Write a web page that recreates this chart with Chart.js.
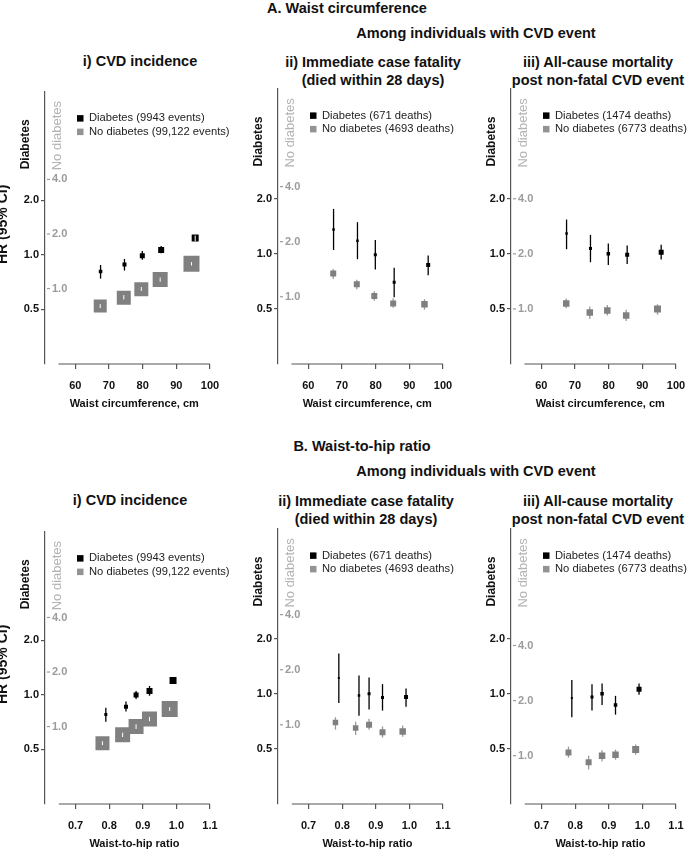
<!DOCTYPE html>
<html>
<head>
<meta charset="utf-8">
<script src="https://cdn.jsdelivr.net/npm/chart.js@4/dist/chart.umd.min.js"></script>
<style>
  body { margin: 0; background: #fff; }
  #fig { position: relative; width: 689px; height: 850px; overflow: hidden; font-family: "Liberation Sans", Arial, sans-serif; }
  #fig canvas { position: absolute; }
  .t { position: absolute; transform: translate(-50%, -50%); white-space: nowrap; font-weight: bold; font-size: 14.5px; color: #111; text-align: center; line-height: 17.5px; }
</style>
</head>
<body>
<div id="fig">
  <div class="t" style="left:347px;top:9px">A. Waist circumference</div>
  <div class="t" style="left:476px;top:34px">Among individuals with CVD event</div>
  <div class="t" style="left:140px;top:62px">i) CVD incidence</div>
  <div class="t" style="left:373px;top:71px">ii) Immediate case fatality<br>(died within 28 days)</div>
  <div class="t" style="left:598px;top:71px">iii) All-cause mortality<br>post non-fatal CVD event</div>

  <div class="t" style="left:362px;top:447px">B. Waist-to-hip ratio</div>
  <div class="t" style="left:476px;top:472px">Among individuals with CVD event</div>
  <div class="t" style="left:130px;top:501px">i) CVD incidence</div>
  <div class="t" style="left:366px;top:510px">ii) Immediate case fatality<br>(died within 28 days)</div>
  <div class="t" style="left:598px;top:510px">iii) All-cause mortality<br>post non-fatal CVD event</div>
</div>

<script>
// ---- data ----

// x positions of the groups (median of each category)
const waistX_dm = [67.5, 74.6, 79.9, 85.5, 95.6];
const waistX_no = [67.4, 74.4, 79.6, 85.2, 94.5];
const whrX_dm = [0.79, 0.85, 0.88, 0.92, 0.99];
const whrX_no = [0.78, 0.84, 0.88, 0.92, 0.98];

const waistTicks = [60, 70, 80, 90, 100];
const whrTicks = [0.7, 0.8, 0.9, 1.0, 1.1];
const hrTicks = [0.5, 1.0, 2.0];
const hrTicksNo = [1.0, 2.0, 4.0];

// A i) CVD incidence
const aInc_dm = [0.81, 0.885, 0.99, 1.065, 1.24];
const aInc_dmLo = [0.74, 0.82, 0.94, 1.02, 1.19];
const aInc_dmHi = [0.88, 0.95, 1.05, 1.12, 1.28];
const aInc_no = [0.80, 0.89, 0.99, 1.12, 1.37];
const aInc_noLo = [0.78, 0.87, 0.97, 1.09, 1.34];
const aInc_noHi = [0.82, 0.92, 1.02, 1.15, 1.40];

// A ii) immediate case fatality
const aFat_dm = [1.36, 1.18, 0.99, 0.70, 0.87];
const aFat_dmLo = [1.05, 0.935, 0.82, 0.58, 0.765];
const aFat_dmHi = [1.76, 1.49, 1.19, 0.84, 0.98];
const aFat_no = [1.34, 1.17, 1.01, 0.92, 0.91];
const aFat_noLo = [1.25, 1.10, 0.95, 0.87, 0.85];
const aFat_noHi = [1.42, 1.24, 1.07, 0.98, 0.97];

// A iii) all-cause mortality
const aMort_dm = [1.29, 1.07, 1.0, 0.99, 1.02];
const aMort_dmLo = [1.06, 0.90, 0.87, 0.88, 0.93];
const aMort_dmHi = [1.54, 1.27, 1.14, 1.11, 1.12];
const aMort_no = [1.07, 0.955, 0.98, 0.92, 1.0];
const aMort_noLo = [1.01, 0.88, 0.92, 0.86, 0.93];
const aMort_noHi = [1.14, 1.03, 1.05, 0.99, 1.06];

// B i) CVD incidence
const bInc_dm = [0.78, 0.86, 1.0, 1.05, 1.20];
const bInc_dmLo = [0.71, 0.81, 0.95, 0.99, 1.15];
const bInc_dmHi = [0.85, 0.92, 1.05, 1.12, 1.25];
const bInc_no = [0.81, 0.90, 1.0, 1.10, 1.25];
const bInc_noLo = [0.79, 0.875, 0.97, 1.07, 1.22];
const bInc_noHi = [0.83, 0.925, 1.03, 1.13, 1.28];

// B ii) immediate case fatality
const bFat_dm = [1.22, 0.98, 1.0, 0.955, 0.96];
const bFat_dmLo = [0.89, 0.76, 0.82, 0.81, 0.85];
const bFat_dmHi = [1.66, 1.26, 1.23, 1.13, 1.07];
const bFat_no = [1.03, 0.96, 1.0, 0.91, 0.92];
const bFat_noLo = [0.94, 0.88, 0.94, 0.85, 0.86];
const bFat_noHi = [1.10, 1.04, 1.08, 0.98, 0.99];

// B iii) all-cause mortality
const bMort_dm = [0.95, 0.96, 1.0, 0.87, 1.06];
const bMort_dmLo = [0.745, 0.81, 0.87, 0.77, 0.99];
const bMort_dmHi = [1.19, 1.13, 1.14, 0.975, 1.14];
const bMort_no = [1.04, 0.92, 1.0, 1.01, 1.08];
const bMort_noLo = [0.975, 0.84, 0.93, 0.95, 1.01];
const bMort_noHi = [1.12, 1.0, 1.07, 1.08, 1.15];

const incLabels = ['Diabetes (9943 events)', 'No diabetes (99,122 events)'];
const fatLabels = ['Diabetes (671 deaths)', 'No diabetes (4693 deaths)'];
const mortLabels = ['Diabetes (1474 deaths)', 'No diabetes (6773 deaths)'];

// ---- styling / layout ----

const FONT = '"Liberation Sans", Arial, sans-serif';
const AXIS = '#555';
const GREY_PT = '#808080';
const GREY_CI = '#9a9a9a';
const GREY_TXT = '#9b9b9b';
Chart.defaults.font.family = FONT;

function series(label, xs, hr, lo, hi, sizes, grey) {
  return {
    label: label,
    data: xs.map((x, i) => ({x: x, y: hr[i]})),
    lo: lo,
    hi: hi,
    boxSizes: sizes,
    yAxisID: grey ? 'y2' : 'y',
    pointStyle: 'rect',
    pointRadius: sizes.map(s => s / Math.SQRT2),
    pointHoverRadius: sizes.map(s => s / Math.SQRT2),
    pointBorderWidth: 0,
    backgroundColor: grey ? GREY_PT : '#000',
    borderColor: grey ? GREY_PT : '#000',
    ciColor: grey ? GREY_CI : '#000',
    legendColor: grey ? '#939393' : '#000',
    showLine: false
  };
}

const waistAxis = {min: 51, max: 100, ticks: waistTicks, line: [55, 100], title: 'Waist circumference, cm', fmt: v => String(v)};
const whrAxis = {min: 0.609, max: 1.1, ticks: whrTicks, line: [0.65, 1.1], title: 'Waist-to-hip ratio', fmt: v => v.toFixed(1)};

// greyShift moves the "No diabetes" axis against the "Diabetes" axis
const panels = [
  {left: 0, top: 80, xa: waistAxis, hr: true, greyShift: 1.533, sets: [
    series(incLabels[0], waistX_dm, aInc_dm, aInc_dmLo, aInc_dmHi, [3.5, 4, 5, 6, 7], false),
    series(incLabels[1], waistX_no, aInc_no, aInc_noLo, aInc_noHi, [13, 14, 14, 15, 16], true)]},
  {left: 233, top: 80, xa: waistAxis, hr: false, greyShift: 1.716, sets: [
    series(fatLabels[0], waistX_dm, aFat_dm, aFat_dmLo, aFat_dmHi, [2.5, 2.5, 3, 3, 4], false),
    series(fatLabels[1], waistX_no, aFat_no, aFat_noLo, aFat_noHi, [6, 6, 6, 6, 6.5], true)]},
  {left: 466, top: 80, xa: waistAxis, hr: false, greyShift: 2.0, sets: [
    series(mortLabels[0], waistX_dm, aMort_dm, aMort_dmLo, aMort_dmHi, [2.5, 3, 3.5, 4, 5], false),
    series(mortLabels[1], waistX_no, aMort_no, aMort_noLo, aMort_noHi, [6.5, 6.5, 6.5, 6.5, 7], true)]},
  {left: 0, top: 520, xa: whrAxis, hr: true, greyShift: 1.495, sets: [
    series(incLabels[0], whrX_dm, bInc_dm, bInc_dmLo, bInc_dmHi, [3, 4, 5, 6, 7], false),
    series(incLabels[1], whrX_no, bInc_no, bInc_noLo, bInc_noHi, [14, 15, 15, 15, 16], true)]},
  {left: 233, top: 520, xa: whrAxis, hr: false, greyShift: 1.476, sets: [
    series(fatLabels[0], whrX_dm, bFat_dm, bFat_dmLo, bFat_dmHi, [2, 2.5, 3, 3, 4], false),
    series(fatLabels[1], whrX_no, bFat_no, bFat_noLo, bFat_noHi, [5.5, 5.5, 6, 6, 6.5], true)]},
  {left: 466, top: 520, xa: whrAxis, hr: false, greyShift: 2.177, sets: [
    series(mortLabels[0], whrX_dm, bMort_dm, bMort_dmLo, bMort_dmHi, [2, 3, 3.5, 3.5, 5], false),
    series(mortLabels[1], whrX_no, bMort_no, bMort_noLo, bMort_noHi, [6, 6, 6.5, 6.5, 7], true)]}
];

function vtext(ctx, txt, x, y, font, color, base) {
  ctx.save();
  ctx.translate(x, y);
  ctx.rotate(-Math.PI / 2);
  ctx.font = font;
  ctx.fillStyle = color;
  ctx.textAlign = base === 'alphabetic' ? 'center' : 'left';
  ctx.textBaseline = base || 'middle';
  ctx.fillText(txt, 0, 0);
  ctx.restore();
}

// CI whiskers, legend, second axis and other bits of the panel
function decor(P) {
  function ciLines(chart, white) {
    const ctx = chart.ctx;
    chart.data.datasets.forEach((ds, di) => {
      const ys = chart.scales[ds.yAxisID];
      const meta = chart.getDatasetMeta(di);
      ds.data.forEach((p, i) => {
        const x = meta.data[i].x;
        const top = ys.getPixelForValue(ds.hi[i]);
        const bot = ys.getPixelForValue(ds.lo[i]);
        const inside = (bot - top) < ds.boxSizes[i] - 0.5;
        if (inside !== white) return;
        ctx.save();
        ctx.strokeStyle = white ? '#fff' : ds.ciColor;
        ctx.lineWidth = white ? 1 : 1.3;
        ctx.beginPath();
        ctx.moveTo(x, top);
        ctx.lineTo(x, bot);
        ctx.stroke();
        ctx.restore();
      });
    });
  }
  return {
    id: 'decor',
    beforeDatasetsDraw(chart) { ciLines(chart, false); },
    afterDatasetsDraw(chart) { ciLines(chart, true); },
    afterDraw(chart) {
      const ctx = chart.ctx;
      const a = chart.chartArea;
      const xs = chart.scales.x;
      const y2 = chart.scales.y2;
      const ax = a.left;

      // x axis line (starts right of the y axis)
      ctx.save();
      ctx.strokeStyle = AXIS;
      ctx.lineWidth = 1.2;
      ctx.beginPath();
      ctx.moveTo(xs.getPixelForValue(P.xa.line[0]), a.bottom);
      ctx.lineTo(xs.getPixelForValue(P.xa.line[1]), a.bottom);
      ctx.stroke();

      // x title
      const cx = (xs.getPixelForValue(P.xa.line[0]) + xs.getPixelForValue(P.xa.line[1])) / 2;
      ctx.font = 'bold 11px ' + FONT;
      ctx.fillStyle = '#111';
      ctx.textAlign = 'center';
      ctx.textBaseline = 'middle';
      ctx.fillText(P.xa.title, cx, a.bottom + 40);

      // "No diabetes" axis, drawn inside the plot
      ctx.strokeStyle = GREY_TXT;
      ctx.lineWidth = 1.2;
      ctx.fillStyle = GREY_TXT;
      ctx.textAlign = 'left';
      hrTicksNo.forEach(v => {
        const py = y2.getPixelForValue(v);
        ctx.beginPath();
        ctx.moveTo(ax + 2, py);
        ctx.lineTo(ax + 5, py);
        ctx.stroke();
        ctx.fillText(v.toFixed(1), ax + 7, py);
      });

      // legend
      ctx.font = '11.2px ' + FONT;
      chart.data.datasets.forEach((ds, i) => {
        const ly = a.top + 27 + i * 13.5;
        ctx.fillStyle = ds.legendColor;
        ctx.fillRect(ax + 32, ly - 3.2, 6.5, 6.5);
        ctx.fillStyle = '#222';
        ctx.fillText(ds.label, ax + 44, ly);
      });
      ctx.restore();

      vtext(ctx, 'Diabetes', ax - 19, a.top + 78, 'bold 12px ' + FONT, '#111');
      vtext(ctx, 'No diabetes', ax + 12.5, a.top + 79, '13px ' + FONT, '#b3b3b3');
      if (P.hr) vtext(ctx, 'HR (95% CI)', 6.5, a.top + 133, 'bold 14px ' + FONT, '#111', 'alphabetic');
    }
  };
}

const fig = document.getElementById('fig');

panels.forEach(P => {
  const cv = document.createElement('canvas');
  cv.width = 233;
  cv.height = 340;
  cv.style.left = P.left + 'px';
  cv.style.top = P.top + 'px';
  fig.appendChild(cv);

  new Chart(cv, {
    type: 'scatter',
    data: {datasets: P.sets},
    options: {
      responsive: false,
      animation: false,
      devicePixelRatio: 1,
      layout: {padding: {left: 0, top: 8, right: 23, bottom: 0}},
      plugins: {legend: {display: false}, tooltip: {enabled: false}},
      scales: {
        x: {
          type: 'linear',
          min: P.xa.min,
          max: P.xa.max,
          afterBuildTicks: s => { s.ticks = P.xa.ticks.map(v => ({value: v})); },
          afterFit: s => { s.height = 56; },
          border: {display: false},
          grid: {drawOnChartArea: false, drawTicks: true, tickLength: 5, color: AXIS, lineWidth: 1.2},
          ticks: {font: {size: 11, weight: 'bold'}, color: '#111', padding: 10, maxRotation: 0, autoSkip: false, callback: v => P.xa.fmt(v)}
        },
        y: {
          type: 'logarithmic',
          position: 'left',
          min: 0.25,
          max: 8,
          afterBuildTicks: s => { s.ticks = hrTicks.map(v => ({value: v})); },
          afterFit: s => { s.width = 45; },
          border: {display: true, color: AXIS, width: 1.2},
          grid: {drawOnChartArea: false, drawTicks: true, tickLength: 4, color: AXIS, lineWidth: 1.2},
          ticks: {font: {size: 11, weight: 'bold'}, color: '#111', padding: 2, callback: v => Number(v).toFixed(1)}
        },
        y2: {
          type: 'logarithmic',
          display: false,
          min: 0.25 * P.greyShift,
          max: 8 * P.greyShift
        }
      }
    },
    plugins: [decor(P)]
  });
});
</script>
</body>
</html>
